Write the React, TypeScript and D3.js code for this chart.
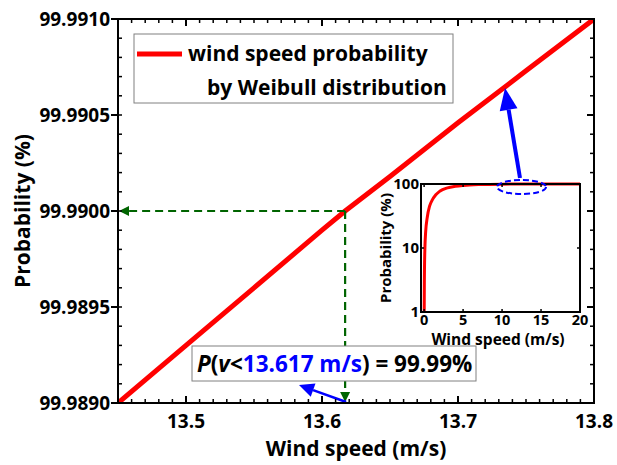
import React from 'react';
import * as d3 from 'd3';

const mainWindSpeed = [13.45, 13.5, 13.55, 13.6, 13.617, 13.65, 13.7, 13.75, 13.8];
const mainProbability = [99.989, 99.9893, 99.9896, 99.9899, 99.99, 99.99018, 99.99046, 99.99073, 99.991];
const xTicks = [13.5, 13.6, 13.7, 13.8];
const xTickLabels = ['13.5', '13.6', '13.7', '13.8'];
const yTicks = [99.989, 99.9895, 99.99, 99.9905, 99.991];
const yTickLabels = ['99.9890', '99.9895', '99.9900', '99.9905', '99.9910'];

const insetWindSpeed = [0.01, 0.03, 0.05, 0.1, 0.2, 0.4, 0.7, 1, 1.5, 2, 3, 4, 5, 7, 10, 15, 20];
const insetProbability = [1, 3, 5, 10, 18, 30, 45, 55, 68, 77, 87, 92, 95, 98, 99.5, 99.9, 99.99];
const insetXTicks = [0, 5, 10, 15, 20];
const insetYTicks = [1, 10, 100];

const markedSpeed = 13.617;
const markedProb = 99.99;

const FONT = '"Open Sans", sans-serif';

export default function App() {
  const W = 617, H = 465;
  const L = 118, R = 594, T = 19, B = 403;
  const x = d3.scaleLinear().domain([13.45, 13.8]).range([L, R]);
  const y = d3.scaleLinear().domain([99.989, 99.991]).range([B, T]);

  const minorX = d3.range(13.45, 13.8001, 0.01).map((v) => +v.toFixed(2));
  const minorY = d3.range(0, 21).map((i) => 99.989 + i * 0.0001);

  const line = d3.line<number>().x((_, i) => x(mainWindSpeed[i])).y((d) => y(d));

  // inset
  const iL = 421, iR = 580, iT = 184, iB = 312;
  const ix = d3.scaleLinear().domain([-0.4, 20]).range([iL, iR]);
  const iy = d3.scaleLog().domain([1, 100]).range([iB, iT]);
  const iline = d3
    .line<number>()
    .x((_, i) => ix(insetWindSpeed[i]))
    .y((d) => iy(Math.min(d, 100)))
    .curve(d3.curveMonotoneX);

  const mx = x(markedSpeed);
  const my = y(markedProb);
  const green = '#006400';

  // blue arrow main
  const bTail = [mx + 1, B - 1];
  const bTip = [299, 385];
  const ang = Math.atan2(bTip[1] - bTail[1], bTip[0] - bTail[0]);
  const hl = 15, hw = 7;
  const bBase = [bTip[0] - hl * Math.cos(ang), bTip[1] - hl * Math.sin(ang)];
  const perp = [-Math.sin(ang), Math.cos(ang)];
  const bHead = [
    bTip,
    [bBase[0] + perp[0] * hw, bBase[1] + perp[1] * hw],
    [bBase[0] - perp[0] * hw, bBase[1] - perp[1] * hw],
  ];

  // blue arrow to inset
  const e = { cx: ix(12.5), cy: iy(100) + 3, rx: 24.5, ry: 7 };
  const aTail = [520, e.cy - e.ry - 2];
  const aTip = [505, 88];
  const ang2 = Math.atan2(aTip[1] - aTail[1], aTip[0] - aTail[0]);
  const hl2 = 22, hw2 = 9;
  const aBase = [aTip[0] - hl2 * Math.cos(ang2), aTip[1] - hl2 * Math.sin(ang2)];
  const perp2 = [-Math.sin(ang2), Math.cos(ang2)];
  const aHead = [
    aTip,
    [aBase[0] + perp2[0] * hw2, aBase[1] + perp2[1] * hw2],
    [aBase[0] - perp2[0] * hw2, aBase[1] - perp2[1] * hw2],
  ];

  return (
    <svg width={W} height={H} style={{ position: 'absolute', left: 0, top: 0, background: '#fff' }} fontFamily={FONT}>
      <defs>
        <clipPath id="plotclip">
          <rect x={L} y={T} width={R - L} height={B - T} />
        </clipPath>
      </defs>
      <rect x={0} y={0} width={W} height={H} fill="#fff" />

      {/* red main line */}
      <path d={line(mainProbability) || ''} fill="none" stroke="#ff0000" strokeWidth={5} clipPath="url(#plotclip)" />

      {/* green dashed guides */}
      <line x1={mx} y1={my} x2={L + 9} y2={my} stroke={green} strokeWidth={2.2} strokeDasharray="8,5" />
      <polygon points={`${L + 1},${my} ${L + 11},${my - 5} ${L + 11},${my + 5}`} fill={green} />
      <line x1={mx} y1={my} x2={mx} y2={B - 9} stroke={green} strokeWidth={2.2} strokeDasharray="8,5" />
      <polygon points={`${mx},${B - 1} ${mx - 5},${B - 11} ${mx + 5},${B - 11}`} fill={green} />

      {/* blue arrow main */}
      <line x1={bTail[0]} y1={bTail[1]} x2={bBase[0]} y2={bBase[1]} stroke="#0000ff" strokeWidth={2.5} />
      <polygon points={bHead.map((p) => p.join(',')).join(' ')} fill="#0000ff" />

      {/* annotation box */}
      <rect x={192} y={346} width={284} height={35} fill="#fff" stroke="#808080" strokeWidth={1} />
      <text x={197} y={372} fontSize={22.5} fontWeight={700} fill="#000">
        <tspan fontStyle="italic">P</tspan>
        <tspan>(</tspan>
        <tspan fontStyle="italic">v</tspan>
        <tspan>&lt;</tspan>
        <tspan fill="#0000ff">13.617 m/s</tspan>
        <tspan>) = 99.99%</tspan>
      </text>

      {/* axes frame */}
      <rect x={L} y={T} width={R - L} height={B - T} fill="none" stroke="#000" strokeWidth={2} />
      {minorX.map((v, i) => (
        <g key={'mx' + i}>
          <line x1={x(v)} x2={x(v)} y1={B} y2={B - 4} stroke="#000" strokeWidth={1.5} />
          <line x1={x(v)} x2={x(v)} y1={T} y2={T + 4} stroke="#000" strokeWidth={1.5} />
        </g>
      ))}
      {xTicks.map((v, i) => (
        <g key={'xt' + i}>
          <line x1={x(v)} x2={x(v)} y1={B} y2={B - 7} stroke="#000" strokeWidth={2} />
          <line x1={x(v)} x2={x(v)} y1={T} y2={T + 7} stroke="#000" strokeWidth={2} />
          <text x={x(v)} y={428} textAnchor="middle" fontSize={19} fontWeight={700}>
            {xTickLabels[i]}
          </text>
        </g>
      ))}
      {minorY.map((v, i) => (
        <g key={'my' + i}>
          <line x1={L} x2={L + 4} y1={y(v)} y2={y(v)} stroke="#000" strokeWidth={1.5} />
          <line x1={R} x2={R - 4} y1={y(v)} y2={y(v)} stroke="#000" strokeWidth={1.5} />
        </g>
      ))}
      {yTicks.map((v, i) => (
        <g key={'yt' + i}>
          <line x1={L} x2={L - 7} y1={y(v)} y2={y(v)} stroke="#000" strokeWidth={2} />
          <line x1={R} x2={R - 7} y1={y(v)} y2={y(v)} stroke="#000" strokeWidth={2} />
          <text x={110} y={y(v) + 7} textAnchor="end" fontSize={19} fontWeight={700}>
            {yTickLabels[i]}
          </text>
        </g>
      ))}
      <text x={356} y={456} textAnchor="middle" fontSize={21} fontWeight={700}>
        Wind speed (m/s)
      </text>
      <text transform={`translate(30,${(T + B) / 2}) rotate(-90)`} textAnchor="middle" fontSize={21} fontWeight={700}>
        Probability (%)
      </text>

      {/* legend */}
      <rect x={134} y={34} width={319} height={69} fill="#fff" stroke="#808080" strokeWidth={1} />
      <line x1={137} x2={182} y1={54} y2={54} stroke="#ff0000" strokeWidth={5} />
      <text x={188} y={61} fontSize={21} fontWeight={700}>
        wind speed probability
      </text>
      <text x={207} y={95} fontSize={21} fontWeight={700}>
        by Weibull distribution
      </text>

      {/* inset */}
      <rect x={iL} y={iT} width={iR - iL} height={iB - iT} fill="#fff" stroke="none" />
      <path d={iline(insetProbability) || ''} fill="none" stroke="#ff0000" strokeWidth={3} />
      <rect x={iL} y={iT} width={iR - iL} height={iB - iT} fill="none" stroke="#000" strokeWidth={2} />
      {insetXTicks.map((v, i) => (
        <g key={'ixt' + i}>
          <line x1={ix(v)} x2={ix(v)} y1={iB} y2={iB - 3} stroke="#000" strokeWidth={1.5} />
          <line x1={ix(v)} x2={ix(v)} y1={iT} y2={iT + 3} stroke="#000" strokeWidth={1.5} />
          <text x={ix(v)} y={325} textAnchor="middle" fontSize={14.5} fontWeight={700}>
            {v}
          </text>
        </g>
      ))}
      {insetYTicks.map((v, i) => (
        <g key={'iyt' + i}>
          <line x1={iL} x2={iL + 3} y1={iy(v)} y2={iy(v)} stroke="#000" strokeWidth={1.5} />
          <line x1={iR} x2={iR - 3} y1={iy(v)} y2={iy(v)} stroke="#000" strokeWidth={1.5} />
          <text x={iL - 2} y={iy(v) + 5} textAnchor="end" fontSize={15} fontWeight={700}>
            {v}
          </text>
        </g>
      ))}
      <text x={498} y={345} textAnchor="middle" fontSize={15.5} fontWeight={700}>
        Wind speed (m/s)
      </text>
      <text transform={`translate(391,${(iT + iB) / 2}) rotate(-90)`} textAnchor="middle" fontSize={15} fontWeight={700}>
        Probability (%)
      </text>

      {/* dashed ellipse + arrow */}
      <ellipse cx={e.cx} cy={e.cy} rx={e.rx} ry={e.ry} fill="none" stroke="#0000ff" strokeWidth={2} strokeDasharray="6,3" />
      <line x1={aTail[0]} y1={aTail[1]} x2={aBase[0]} y2={aBase[1]} stroke="#0000ff" strokeWidth={4} />
      <polygon points={aHead.map((p) => p.join(',')).join(' ')} fill="#0000ff" />
    </svg>
  );
}
